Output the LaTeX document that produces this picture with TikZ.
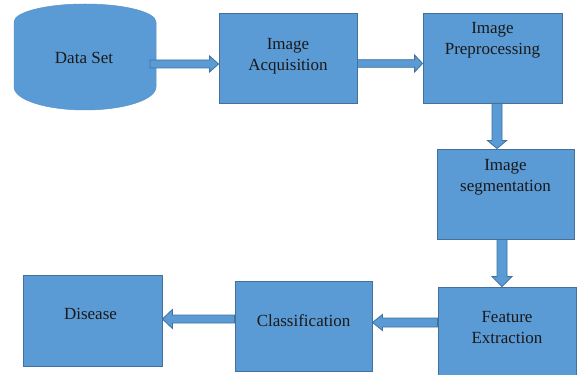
\documentclass[tikz,border=0pt]{standalone}
\usepackage{fontspec}
\setmainfont{Liberation Serif}
\usetikzlibrary{calc}
\definecolor{boxfill}{RGB}{91,155,213}
\definecolor{boxline}{RGB}{65,113,156}
\tikzset{
  stagebox/.style={draw=boxline, fill=boxfill, line width=0.8pt, rectangle, inner sep=0pt},
  labeltext/.style={font=\fontsize{17}{21}\selectfont, align=center, text=black!90, inner sep=0pt},
  blockarrow/.style={draw=boxline, fill=boxfill, line width=0.8pt, line join=miter},
  cylfill/.style={fill=boxfill, draw=boxfill!95!black, line width=0.5pt},
}
% start, end, shaft half width, head half width, head length (signed)
\newcommand\hblockarrow[5]{%
  \draw[blockarrow] ($(#1)+(0,-#3)$) -- ($(#2)+({-(#5)},-#3)$) -- ($(#2)+({-(#5)},-#4)$) -- (#2)
    -- ($(#2)+({-(#5)},#4)$) -- ($(#2)+({-(#5)},#3)$) -- ($(#1)+(0,#3)$) -- cycle;}
\newcommand\vblockarrow[5]{%
  \draw[blockarrow] ($(#1)+(-#3,0)$) -- ($(#2)+(-#3,{-(#5)})$) -- ($(#2)+(-#4,{-(#5)})$) -- (#2)
    -- ($(#2)+(#4,{-(#5)})$) -- ($(#2)+(#3,{-(#5)})$) -- ($(#1)+(#3,0)$) -- cycle;}
\begin{document}
\begin{tikzpicture}[x=1pt,y=-1pt]
\useasboundingbox (0,0) rectangle (577,374);
% Data set cylinder
\path[cylfill] (14,22) arc[start angle=180,end angle=0,x radius=71pt,y radius=18pt]
  -- (156,87) arc[start angle=0,end angle=-180,x radius=71pt,y radius=23pt] -- cycle;
\node[labeltext] (ds) at (84,58) {Data Set};
% boxes
\node[stagebox, minimum width=138pt, minimum height=90pt] (acq) at (288,58) {};
\node[stagebox, minimum width=139pt, minimum height=90pt] (pre) at (492.5,58) {};
\node[stagebox, minimum width=137pt, minimum height=90pt] (seg) at (505.5,194) {};
\node[stagebox, minimum width=138pt, minimum height=89pt] (feat) at (507,331.5) {};
\node[stagebox, minimum width=137pt, minimum height=90pt] (cls) at (303.5,326) {};
\node[stagebox, minimum width=139pt, minimum height=91pt] (dis) at (92.5,320.5) {};
% texts
\node[labeltext] (acqt) at ($(acq)+(0,-2)$) {Image\\Acquisition};
\node[labeltext] (pret) at ($(pre)+(0,-17.5)$) {Image\\Preprocessing};
\node[labeltext] (segt) at ($(seg)+(0,-16.5)$) {Image\\segmentation};
\node[labeltext] (featt) at ($(feat)+(0,-3.5)$) {Feature\\Extraction};
\node[labeltext] (clst) at ($(cls)+(0,-5)$) {Classification};
\node[labeltext] (dist) at ($(dis)+(-2,-6.5)$) {Disease};
% connectors
\coordinate (a1s) at (150,64);
\coordinate (a1e) at (acq.west |- a1s);
\hblockarrow{a1s}{a1e}{4}{8}{9}
\coordinate (a2s) at ($(acq.east)+(0,5.5)$);
\coordinate (a2e) at (pre.west |- a2s);
\hblockarrow{a2s}{a2e}{3.8}{8.5}{8}
\coordinate (a3s) at ($(pre.south)+(4.5,0)$);
\coordinate (a3e) at (a3s |- seg.north);
\vblockarrow{a3s}{a3e}{5}{9.5}{8}
\coordinate (a4s) at ($(seg.south)+(-3.5,0)$);
\coordinate (a4e) at (a4s |- feat.north);
\vblockarrow{a4s}{a4e}{5}{10}{10}
\coordinate (a5s) at ($(feat.west)+(0,-9)$);
\coordinate (a5e) at (cls.east |- a5s);
\hblockarrow{a5s}{a5e}{4.5}{8}{-10}
\coordinate (a6s) at ($(cls.west)+(0,-7)$);
\coordinate (a6e) at (dis.east |- a6s);
\hblockarrow{a6s}{a6e}{4}{9.5}{-10}
\end{tikzpicture}
\end{document}
